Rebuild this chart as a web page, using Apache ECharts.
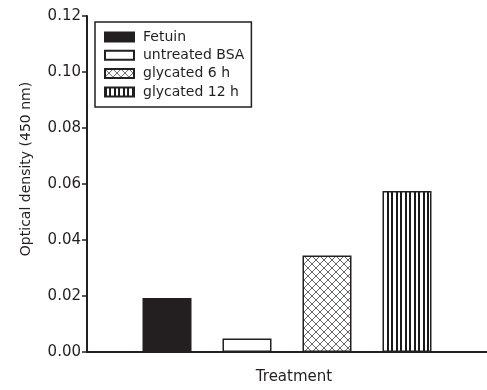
<!DOCTYPE html>
<html><head><meta charset="utf-8">
<script src="https://cdn.jsdelivr.net/npm/echarts@6/dist/echarts.min.js"></script>
<style>html,body{margin:0;padding:0;background:#fff}#c{width:487px;height:390px}</style>
</head><body><div id="c"></div>
<script>
var categories = ['Fetuin', 'untreated BSA', 'glycated 6 h', 'glycated 12 h'];
var values = [0.0193, 0.0048, 0.0345, 0.0575];
var yTicks = [0, 0.02, 0.04, 0.06, 0.08, 0.10, 0.12];

function crossPattern() {
  var c = document.createElement('canvas'); c.width = 8; c.height = 8;
  var g = c.getContext('2d');
  g.fillStyle = '#fff'; g.fillRect(0, 0, 8, 8);
  g.strokeStyle = '#666'; g.lineWidth = 1;
  g.beginPath(); g.moveTo(0, 0); g.lineTo(8, 8); g.moveTo(8, 0); g.lineTo(0, 8); g.stroke();
  return c;
}
function stripePattern() {
  var c = document.createElement('canvas'); c.width = 9; c.height = 4;
  var g = c.getContext('2d');
  g.fillStyle = '#fff'; g.fillRect(0, 0, 9, 4);
  g.fillStyle = '#1a1a1a'; g.fillRect(0, 0, 2, 4); g.fillRect(4, 0, 2, 4);
  return c;
}
var fills = [
  '#231f20',
  '#ffffff',
  { image: crossPattern(), repeat: 'repeat' },
  { image: stripePattern(), repeat: 'repeat' }
];

var FONT = 'DejaVu Sans, Liberation Sans, Arial, sans-serif';
var xData = [''].concat(categories).concat(['']);
var series = categories.map(function (name, i) {
  var d = xData.map(function () { return '-'; });
  d[i + 1] = values[i];
  return {
    name: name, type: 'bar', data: d, barWidth: 49, barGap: '-100%',
    itemStyle: { color: fills[i], borderColor: '#231f20', borderWidth: 1.5 },
    emphasis: { disabled: true }
  };
});

var chart = echarts.init(document.getElementById('c'), null, { renderer: 'canvas' });
chart.setOption({
  animation: false,
  textStyle: { fontFamily: FONT },
  grid: { left: 87, right: 0, top: 16, bottom: 32 },
  legend: {
    orient: 'vertical', left: 95, top: 22,
    padding: [7, 7, 7, 9],
    borderColor: '#231f20', borderWidth: 1.5,
    itemWidth: 29, itemHeight: 9, itemGap: 2.3,
    textStyle: { fontSize: 14, lineHeight: 16, color: '#231f20', fontFamily: FONT, padding: [0, 0, 0, 4] },
    data: categories.map(function (n) { return { name: n, icon: 'rect' }; })
  },
  xAxis: {
    type: 'category', data: xData, boundaryGap: false,
    name: 'Treatment', nameLocation: 'middle', nameGap: 18,
    nameTextStyle: { fontSize: 15, color: '#231f20', verticalAlign: 'top', padding: [0, 0, 0, 14] },
    axisLine: { lineStyle: { color: '#231f20', width: 2 } },
    axisTick: { show: false }, axisLabel: { show: false }, splitLine: { show: false }
  },
  yAxis: {
    type: 'value', min: yTicks[0], max: yTicks[yTicks.length - 1], interval: 0.02,
    name: 'Optical density (450 nm)', nameLocation: 'middle', nameGap: 54,
    nameTextStyle: { fontSize: 14, color: '#231f20', padding: [0, 0, 0, 30] },
    axisLine: { show: true, lineStyle: { color: '#231f20', width: 2 } },
    axisTick: { show: true, length: 5, lineStyle: { color: '#231f20', width: 1.5 } },
    axisLabel: { fontSize: 15, color: '#231f20', margin: 6, formatter: function (v) { return v.toFixed(2); } },
    splitLine: { show: false }
  },
  series: series
});
</script></body></html>
